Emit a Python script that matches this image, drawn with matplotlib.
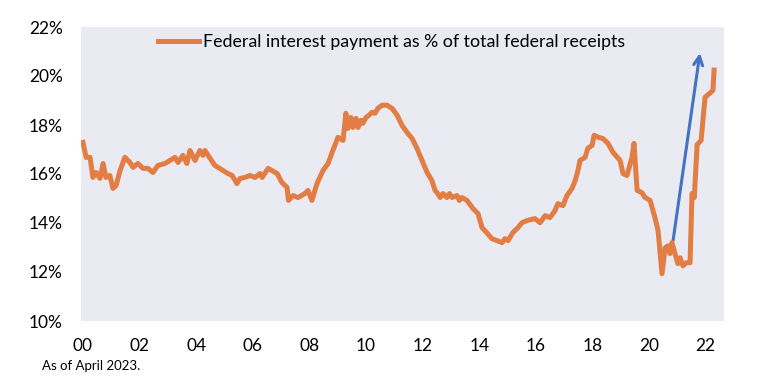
import matplotlib
matplotlib.use("Agg")
import matplotlib.pyplot as plt

plt.rcParams['font.family'] = ['Lato', 'DejaVu Sans']

years = [2000.00, 2000.11, 2000.25, 2000.35, 2000.46, 2000.60, 2000.71, 2000.81, 2000.95,
         2001.06, 2001.17, 2001.31, 2001.48, 2001.66, 2001.77, 2001.94,
         2002.12, 2002.30, 2002.47, 2002.65, 2002.90,
         2003.07, 2003.25, 2003.36, 2003.53, 2003.67, 2003.78, 2003.96,
         2004.13, 2004.24, 2004.31, 2004.49, 2004.66, 2004.77, 2004.95,
         2005.12, 2005.27, 2005.44, 2005.55, 2005.72, 2005.90,
         2006.08, 2006.25, 2006.33, 2006.54, 2006.86,
         2007.03, 2007.21, 2007.26, 2007.42, 2007.60, 2007.84, 2007.95,
         2008.09, 2008.27, 2008.37, 2008.48, 2008.66, 2008.83,
         2009.01, 2009.19, 2009.29, 2009.36, 2009.47, 2009.54, 2009.65, 2009.72, 2009.82, 2009.89,
         2010.00, 2010.11, 2010.21, 2010.32, 2010.42, 2010.57, 2010.74, 2010.92,
         2011.10, 2011.27, 2011.45, 2011.63, 2011.80, 2011.98,
         2012.16, 2012.33, 2012.44, 2012.51, 2012.62, 2012.72, 2012.86, 2012.95,
         2013.04, 2013.22, 2013.30, 2013.39, 2013.57, 2013.78, 2013.96,
         2014.10, 2014.20, 2014.45, 2014.63, 2014.81, 2014.91,
         2015.02, 2015.19, 2015.37, 2015.51, 2015.69, 2015.97,
         2016.15, 2016.33, 2016.50, 2016.68, 2016.78, 2016.96,
         2017.10, 2017.28, 2017.39, 2017.49, 2017.56, 2017.74, 2017.84, 2017.99,
         2018.06, 2018.20, 2018.37, 2018.55, 2018.73, 2018.98,
         2019.08, 2019.22, 2019.40, 2019.47, 2019.58, 2019.75, 2019.86,
         2020.04, 2020.21, 2020.32, 2020.46, 2020.57, 2020.67, 2020.74, 2020.81, 2020.92,
         2021.02, 2021.10, 2021.20, 2021.32, 2021.45, 2021.52, 2021.60, 2021.70, 2021.84, 2021.98,
         2022.15, 2022.26, 2022.30]

share = [17.29, 16.68, 16.68, 15.86, 16.06, 15.82, 16.43, 15.86, 15.94,
         15.41, 15.53, 16.14, 16.68, 16.47, 16.27, 16.43,
         16.23, 16.23, 16.06, 16.35, 16.43,
         16.55, 16.68, 16.47, 16.76, 16.43, 16.96, 16.55,
         16.96, 16.76, 16.96, 16.64, 16.35, 16.27, 16.14,
         16.02, 15.94, 15.61, 15.82, 15.86, 15.94,
         15.86, 16.02, 15.86, 16.23, 16.02,
         15.65, 15.45, 14.92, 15.12, 15.04, 15.20, 15.33,
         14.92, 15.61, 15.86, 16.14, 16.43, 16.96,
         17.50, 17.37, 18.48, 17.86, 18.31, 17.90, 18.27, 17.90, 18.19, 18.07,
         18.31, 18.40, 18.52, 18.48, 18.68, 18.81, 18.81, 18.68,
         18.40, 17.99, 17.70, 17.45, 17.05, 16.55,
         16.06, 15.73, 15.33, 15.24, 15.04, 15.20, 15.04, 15.20,
         15.04, 15.12, 14.92, 15.04, 14.92, 14.59, 14.38,
         13.81, 13.69, 13.36, 13.28, 13.20, 13.36,
         13.28, 13.61, 13.81, 14.01, 14.10, 14.18,
         14.01, 14.30, 14.22, 14.51, 14.79, 14.71,
         15.12, 15.41, 15.73, 16.14, 16.55, 16.68, 17.05, 17.17,
         17.58, 17.50, 17.45, 17.25, 16.88, 16.55,
         16.02, 15.94, 16.68, 17.25, 15.33, 15.24, 15.04,
         14.92, 14.22, 13.69, 11.93, 12.99, 13.07, 12.75, 13.20, 12.75,
         12.34, 12.58, 12.25, 12.38, 12.38, 15.20, 15.04, 17.20, 17.37, 19.13,
         19.30, 19.42, 20.24]

arrow_start = (2020.85, 13.28)
arrow_end = (2021.80, 20.94)

x_ticks = list(range(2000, 2023, 2))
x_labels = ['00', '02', '04', '06', '08', '10', '12', '14', '16', '18', '20', '22']
y_ticks = [10, 12, 14, 16, 18, 20, 22]
y_labels = ['10%', '12%', '14%', '16%', '18%', '20%', '22%']

series_label = 'Federal interest payment as % of total federal receipts'

fig = plt.figure(figsize=(7.65, 3.84), dpi=100)
ax = fig.add_axes([81/765, 1-321/384, 643/765, 294/384])
ax.set_facecolor('#EAEAF2')

ax.annotate('', xy=arrow_end, xytext=arrow_start,
            arrowprops=dict(arrowstyle='->', color='#4472C4', lw=2.2,
                            mutation_scale=16, shrinkA=0, shrinkB=0),
            zorder=1)
ax.plot(years, share, color='#E27D43', lw=3.6, solid_joinstyle='round',
        label=series_label, zorder=3)

ax.set_xlim(1999.93, 2022.65)
ax.set_ylim(10, 22)
ax.set_xticks(x_ticks)
ax.set_xticklabels(x_labels)
ax.set_yticks(y_ticks)
ax.set_yticklabels(y_labels)
ax.tick_params(axis='both', length=0, labelsize=12.5, colors='black')
ax.tick_params(axis='y', pad=13)
ax.tick_params(axis='x', pad=12)
for s in ax.spines.values():
    s.set_visible(False)

ax.legend(loc='center left', bbox_to_anchor=(0.12, 0.949), frameon=False,
          borderaxespad=0, borderpad=0, handlelength=2.3, handletextpad=0.2,
          fontsize=12.8)

fig.text(42/765, 1-366/384, 'As of April 2023.', fontsize=9.5, va='center', ha='left')

fig.savefig('out.png', dpi=100)
